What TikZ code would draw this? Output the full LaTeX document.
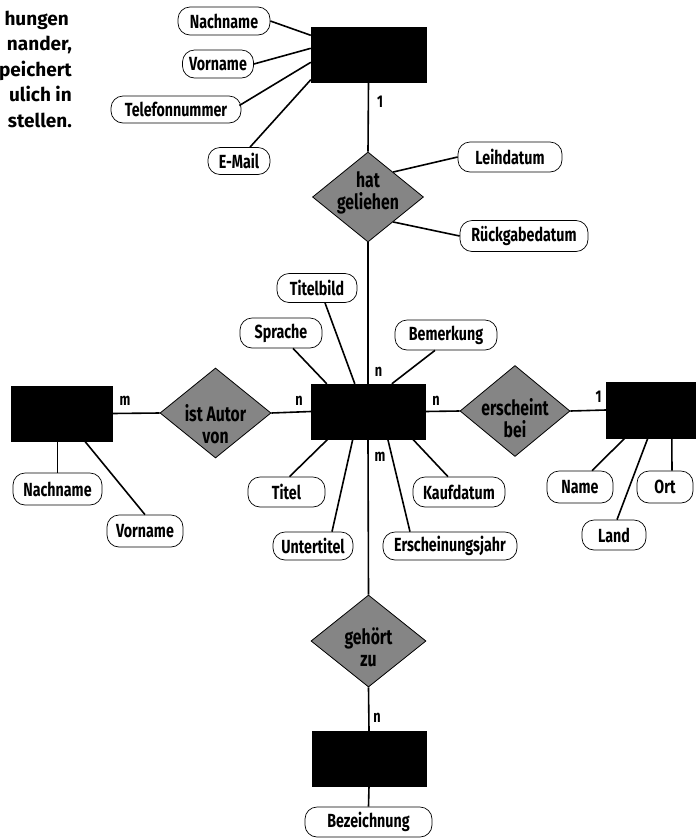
\documentclass[tikz,border=0pt]{standalone}
\usepackage{fontspec}
\setmainfont{Fira Sans}
\newfontfamily\attrfont{Fira Sans}[FakeStretch=0.75]
\newfontfamily\headfont{Fira Sans}
\usetikzlibrary{shapes.geometric,calc}
\tikzset{
 ent/.style={fill=black, draw=black, inner sep=0pt},
 rel/.style={diamond, draw=black, line width=0.8pt, fill=black!48, inner sep=0pt},
 reltext/.style={font=\attrfont\bfseries\fontsize{21}{22}\selectfont, align=center, inner sep=0pt},
 attr/.style={draw=black, line width=0.7pt, rounded corners=12pt, inner sep=0pt, fill=white, font=\attrfont\bfseries\fontsize{19}{20}\selectfont},
 card/.style={font=\attrfont\bfseries\fontsize{17}{19}\selectfont, inner sep=0pt},
 conn/.style={line width=1.6pt},
 head/.style={font=\headfont\bfseries\fontsize{19}{25}\selectfont, anchor=base east, inner sep=0pt},
}
\begin{document}
\begin{tikzpicture}[x=1pt,y=-1pt]
\useasboundingbox (0,0) rectangle (696,839);

% intro text (cut at the left edge)
\node[head] (h1) at (69,25) {hungen};
\node[head] (h2) at (72,50.5) {nander,};
\node[head] (h3) at (72,76) {peichert};
\node[head] (h4) at (72,101.5) {ulich in};
\node[head] (h5) at (72,127) {stellen.};

% entities
\node[ent, minimum width=115pt, minimum height=55pt] (leser) at (368.5,55) {};
\node[ent, minimum width=114pt, minimum height=55pt] (buch) at (368,411.5) {};
\node[ent, minimum width=101pt, minimum height=55pt] (autor) at (61.5,413.5) {};
\node[ent, minimum width=90pt, minimum height=56pt] (verlag) at (651,410) {};
\node[ent, minimum width=114pt, minimum height=55pt] (kat) at (369,758.5) {};

% relationships
\node[rel, minimum width=111pt, minimum height=90pt] (hg) at (368,197) {};
\node[reltext] (hgt) at (368,192.5) {hat\\geliehen};
\node[rel, minimum width=111pt, minimum height=90pt] (ia) at (215.5,413) {};
\node[reltext] (iat) at (215.5,424) {ist Autor\\von};
\node[rel, minimum width=110pt, minimum height=91pt] (eb) at (515,411) {};
\node[reltext] (ebt) at (515,418.5) {erscheint\\bei};
\node[rel, minimum width=115pt, minimum height=92pt] (gz) at (368.5,641) {};
\node[reltext] (gzt) at (368.5,647) {gehört\\zu};

% attributes
\node[attr, minimum width=92pt, minimum height=28pt] (an1) at (224,21) {Nachname};
\node[attr, minimum width=71pt, minimum height=28pt] (av1) at (218,64) {Vorname};
\node[attr, minimum width=130pt, minimum height=27pt] (atel) at (176,109.5) {Telefonnummer};
\node[attr, minimum width=62pt, minimum height=27pt] (amail) at (239,161) {E-Mail};
\node[attr, minimum width=104pt, minimum height=30pt] (aleih) at (510,157) {Leihdatum};
\node[attr, minimum width=128pt, minimum height=31pt] (arueck) at (524,236) {Rückgabedatum};
\node[attr, minimum width=80pt, minimum height=29pt] (atb) at (317,288) {Titelbild};
\node[attr, minimum width=82pt, minimum height=30pt] (aspr) at (281,333) {Sprache};
\node[attr, minimum width=102pt, minimum height=30pt] (abem) at (446,335) {Bemerkung};
\node[attr, minimum width=77pt, minimum height=30pt] (atit) at (286.5,492) {Titel};
\node[attr, minimum width=80pt, minimum height=28pt] (aut) at (313,546) {Untertitel};
\node[attr, minimum width=92pt, minimum height=30pt] (akauf) at (459,492) {Kaufdatum};
\node[attr, minimum width=134pt, minimum height=28pt] (aej) at (450,546) {Erscheinungsjahr};
\node[attr, minimum width=89pt, minimum height=32pt] (an2) at (57.5,489) {Nachname};
\node[attr, minimum width=76pt, minimum height=32pt] (av2) at (145,531) {Vorname};
\node[attr, minimum width=66pt, minimum height=32pt] (aname) at (580,487) {Name};
\node[attr, minimum width=56pt, minimum height=32pt] (aort) at (665,487) {Ort};
\node[attr, minimum width=64pt, minimum height=30pt] (aland) at (614,535) {Land};
\node[attr, minimum width=127pt, minimum height=30pt] (abez) at (368.5,822) {Bezeichnung};

% relationship connectors
\draw[conn] (leser.south) -- (hg.north);
\draw[conn] (hg.south) -- (buch.north);
\draw[conn] (buch.south) -- (gz.north);
\draw[conn] (gz.south) -- (kat.north);
\draw[conn] (kat.south) -- (abez.north);
\draw[conn] (autor.east) -- (ia.west);
\draw[conn] (ia.east) -- (buch.west);
\draw[conn] (buch.east) -- (eb.west);
\draw[conn] (eb.east) -- (verlag.west);

% attribute connectors
\draw[conn] (an1.east) -- ($(leser.north west)+(0,8)$);
\draw[conn] (av1.east) -- ($(leser.north west)+(0,21)$);
\draw[conn] ($(atel.east)+(-2,-4)$) -- ($(leser.north west)+(0,35)$);
\draw[conn] ($(amail.north)+(11,0)$) -- ($(leser.south west)+(0,-3)$);
\draw[conn] ($(hg.north)!0.45!(hg.east)$) -- (aleih.west);
\draw[conn] ($(hg.south)!0.45!(hg.east)$) -- (arueck.west);
\draw[conn] ($(atb.south)+(8,0)$) -- ($(buch.north west)+(44,0)$);
\draw[conn] ($(aspr.south)+(12,0)$) -- ($(buch.north west)+(16,0)$);
\draw[conn] ($(abem.south)+(-11,0)$) -- ($(buch.north west)+(81,0)$);
\draw[conn] ($(buch.south west)+(17,0)$) -- ($(atit.north)+(3,0)$);
\draw[conn] ($(buch.south west)+(42,0)$) -- ($(aut.north)+(19,0)$);
\draw[conn] ($(buch.south west)+(77,0)$) -- ($(aej.north)+(-40,0)$);
\draw[conn] ($(buch.south west)+(102,0)$) -- ($(akauf.north)+(-11,0)$);
\draw[conn] (an2.north) -- (an2.north |- autor.south);
\draw[conn] ($(autor.south west)+(74,0)$) -- (av2.north);
\draw[conn] ($(verlag.south west)+(19,0)$) -- ($(aname.north)+(12,0)$);
\draw[conn] ($(verlag.south west)+(42,0)$) -- ($(aland.north)+(3,0)$);
\draw[conn] ($(aort.north)+(7,0)$) -- ($(verlag.south west)+(66,0)$);

% cardinalities
\node[card] (k1) at (380,102) {1};
\node[card] (k2) at (378.5,372) {n};
\node[card] (k3) at (380,457) {m};
\node[card] (k4) at (377,718) {n};
\node[card] (k5) at (125,401) {m};
\node[card] (k6) at (299,401) {n};
\node[card] (k7) at (436,401) {n};
\node[card] (k8) at (598.5,397) {1};
\end{tikzpicture}
\end{document}
